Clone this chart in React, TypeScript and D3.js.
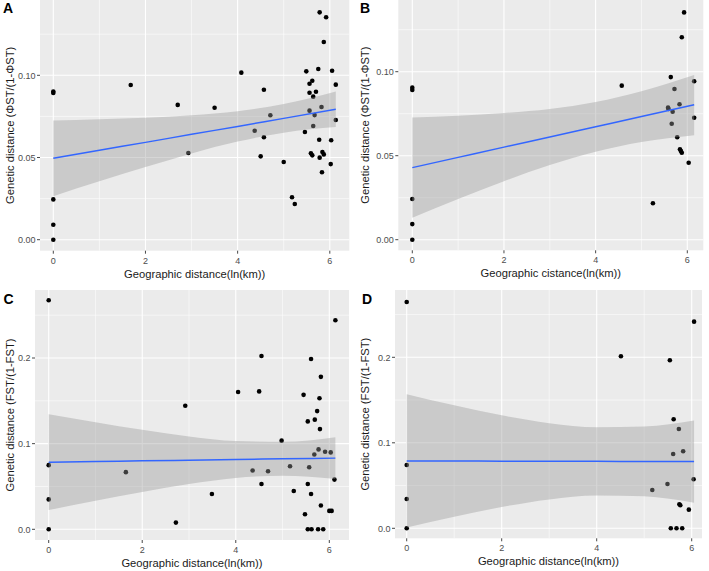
import * as d3 from 'd3';

// ---- data ----
const xTicks = [0, 2, 4, 6];
const xMinor = [1, 3, 5];
const xTickLabels = ['0', '2', '4', '6'];

const phiTicks = [0, 0.05, 0.1];
const phiMinor = [0.025, 0.075, 0.125];
const phiTickLabels = ['0.00', '0.05', '0.10'];

const fstTicks = [0, 0.1, 0.2];
const fstMinor = [0.05, 0.15, 0.25];
const fstTickLabels = ['0.0', '0.1', '0.2'];

const pointsA: [number, number][] = [
  [0, 0.0901], [0, 0.0893], [0, 0.0245], [0, 0.0091], [0, 0.0],
  [1.68, 0.0941], [2.7, 0.082], [2.93, 0.0527], [3.5, 0.0803],
  [4.08, 0.1016], [5.49, 0.1024], [5.75, 0.1038], [6.05, 0.1028], [6.13, 0.0943],
  [5.56, 0.0949], [5.62, 0.0967], [4.57, 0.0912], [5.56, 0.0894], [5.7, 0.09],
  [5.64, 0.087], [5.56, 0.0785], [5.82, 0.0807], [5.67, 0.0758], [4.71, 0.0757],
  [6.13, 0.0728], [5.64, 0.0692], [4.37, 0.0663], [5.46, 0.0655], [4.57, 0.0623],
  [5.77, 0.0608], [6.03, 0.0605], [5.59, 0.0526], [5.62, 0.0513], [5.84, 0.0533],
  [5.87, 0.0519], [5.78, 0.0499], [4.5, 0.0507], [5.0, 0.0473], [6.02, 0.046],
  [5.83, 0.041], [5.18, 0.0258], [5.24, 0.0217], [5.78, 0.1383], [5.92, 0.1353],
  [5.87, 0.1203],
];

const pointsB: [number, number][] = [
  [0, 0.0905], [0, 0.0891], [0, 0.0242], [0, 0.0093], [0, 0],
  [4.57, 0.0917], [5.93, 0.1353], [5.88, 0.1205], [5.64, 0.0968], [6.15, 0.0943],
  [5.72, 0.0897], [5.83, 0.0806], [5.58, 0.0786], [5.59, 0.0778], [5.68, 0.0762],
  [6.15, 0.0726], [5.66, 0.069], [5.78, 0.061], [5.84, 0.0538], [5.86, 0.0528],
  [5.88, 0.0518], [6.03, 0.0458], [5.25, 0.0217],
];

const pointsC: [number, number][] = [
  [0, 0.2675], [0, 0.0749], [0, 0.0349], [0, 0],
  [1.65, 0.0667], [2.72, 0.0078], [2.92, 0.1443], [3.49, 0.0412], [4.05, 0.1603],
  [4.36, 0.0686], [4.5, 0.161], [4.55, 0.2024], [4.55, 0.0529], [4.69, 0.0678],
  [4.98, 0.1035], [5.16, 0.0737], [5.24, 0.0447], [5.45, 0.157], [5.48, 0.0176],
  [5.54, 0.126], [5.54, 0.0529], [5.54, 0], [5.57, 0.0725], [5.61, 0.1988],
  [5.61, 0.0412], [5.62, 0], [5.68, 0.0874], [5.69, 0.128], [5.74, 0.138],
  [5.77, 0.0933], [5.76, 0], [5.79, 0.153], [5.8, 0.117], [5.82, 0.178],
  [5.82, 0.0278], [5.87, 0], [5.91, 0.0906], [6.03, 0.0898], [6.0, 0.0215],
  [6.05, 0.0215], [6.11, 0.058], [6.13, 0.244],
];

const pointsD: [number, number][] = [
  [0, 0.2647], [0, 0.0741], [0, 0.0343], [0, 0],
  [4.51, 0.2012], [5.54, 0.1965], [6.05, 0.2417], [5.62, 0.1275], [5.73, 0.1162],
  [5.61, 0.0869], [5.82, 0.0901], [6.04, 0.0573], [5.49, 0.0519], [5.17, 0.0448],
  [5.74, 0.0281], [5.76, 0.027], [5.94, 0.0218], [5.56, 0], [5.68, 0], [5.8, 0],
];

// fitted lm line and its confidence band, read at a few x positions
const fitXA = [0, 1, 2, 3, 4, 5, 6.13];
const fitA = [0.0495, 0.0544, 0.0592, 0.0641, 0.0689, 0.0738, 0.0793];
const lowA = [0.0265, 0.0355, 0.0442, 0.0525, 0.0597, 0.0651, 0.0685];
const highA = [0.0725, 0.0733, 0.0742, 0.0757, 0.0781, 0.0825, 0.0901];

const fitXB = [0, 1, 2, 3, 4, 5, 6.15];
const fitB = [0.0429, 0.049, 0.0551, 0.0611, 0.0672, 0.0733, 0.0803];
const lowB = [0.0131, 0.0242, 0.0348, 0.0444, 0.0524, 0.0582, 0.0622];
const highB = [0.0727, 0.0738, 0.0754, 0.0778, 0.082, 0.0884, 0.098];

const fitXC = [0, 1, 2, 3, 4, 5, 6.13];
const fitC = [0.0784, 0.0792, 0.0799, 0.0807, 0.0815, 0.0823, 0.0831];
const lowC = [0.0224, 0.0333, 0.0436, 0.053, 0.06, 0.0625, 0.0586];
const highC = [0.1344, 0.1251, 0.1162, 0.1084, 0.103, 0.1021, 0.1076];

const fitXD = [0, 1, 2, 3, 4, 5, 6.05];
const fitD = [0.0788, 0.0787, 0.0785, 0.0784, 0.0783, 0.0782, 0.078];
const lowD = [0.0008, 0.0136, 0.0249, 0.0338, 0.0385, 0.0374, 0.0299];
const highD = [0.1568, 0.1438, 0.1321, 0.123, 0.1181, 0.119, 0.1261];

const phiTitle = 'Genetic distance (\u03A6ST/(1-\u03A6ST)';
const fstTitle = 'Genetic distance (FST/(1-FST)';

interface Panel {
  tag: string;
  rect: [number, number, number, number]; // left, top, right, bottom
  xPx: [number, number]; // pixel of x=0 and x=6
  yPx: [number, number]; // pixel of y=0 and y=yRef
  yRef: number;
  yTicks: number[];
  yMinor: number[];
  yLabels: string[];
  yTitle: string;
  yTitleX: number;
  xTitle: string;
  tagPos: [number, number];
  points: [number, number][];
  fitX: number[];
  fit: number[];
  low: number[];
  high: number[];
}

const panels: Panel[] = [
  {
    tag: 'A', rect: [40, 0, 349.3, 250.7], xPx: [53.3, 329.8], yPx: [239.7, 75.3], yRef: 0.1,
    yTicks: phiTicks, yMinor: phiMinor, yLabels: phiTickLabels, yTitle: phiTitle, yTitleX: 14,
    xTitle: 'Geographic distance(ln(km))', tagPos: [3, 13],
    points: pointsA, fitX: fitXA, fit: fitA, low: lowA, high: highA,
  },
  {
    tag: 'B', rect: [398.3, 0, 703.3, 250.3], xPx: [412.3, 687.3], yPx: [239.7, 71.7], yRef: 0.1,
    yTicks: phiTicks, yMinor: phiMinor, yLabels: phiTickLabels, yTitle: phiTitle, yTitleX: 369,
    xTitle: 'Geographic cistance(ln(km))', tagPos: [360, 13],
    points: pointsB, fitX: fitXB, fit: fitB, low: lowB, high: highB,
  },
  {
    tag: 'C', rect: [35, 290, 349, 540], xPx: [48.7, 329.3], yPx: [529.3, 358], yRef: 0.2,
    yTicks: fstTicks, yMinor: fstMinor, yLabels: fstTickLabels, yTitle: fstTitle, yTitleX: 13.5,
    xTitle: 'Geographic distance(ln(km))', tagPos: [3.5, 304],
    points: pointsC, fitX: fitXC, fit: fitC, low: lowC, high: highC,
  },
  {
    tag: 'D', rect: [395, 290, 702, 538.3], xPx: [406.7, 691.7], yPx: [528.3, 357.3], yRef: 0.2,
    yTicks: fstTicks, yMinor: fstMinor, yLabels: fstTickLabels, yTitle: fstTitle, yTitleX: 369,
    xTitle: 'Geographic distance(ln(km))', tagPos: [362, 304],
    points: pointsD, fitX: fitXD, fit: fitD, low: lowD, high: highD,
  },
];

const FONT = "'Liberation Sans', Arial, sans-serif";

function PanelView({ p }: { p: Panel }) {
  const [left, top, right, bottom] = p.rect;
  const x = d3.scaleLinear().domain([0, 6]).range(p.xPx);
  const y = d3.scaleLinear().domain([0, p.yRef]).range(p.yPx);

  const idx = d3.range(p.fitX.length);
  const band = d3.area<number>()
    .x((i) => x(p.fitX[i]))
    .y0((i) => y(p.low[i]))
    .y1((i) => y(p.high[i]))
    .curve(d3.curveMonotoneX);
  const line = d3.line<number>()
    .x((i) => x(p.fitX[i]))
    .y((i) => y(p.fit[i]))
    .curve(d3.curveMonotoneX);

  const inY = (v: number) => y(v) >= top && y(v) <= bottom;
  const cx = (left + right) / 2;
  const cy = (top + bottom) / 2;

  return (
    <g>
      <rect x={left} y={top} width={right - left} height={bottom - top} fill="#EBEBEB" />
      {/* minor grid */}
      {xMinor.map((v) => (
        <line key={'xm' + v} x1={x(v)} x2={x(v)} y1={top} y2={bottom} stroke="#fff" strokeWidth={0.55} />
      ))}
      {p.yMinor.filter(inY).map((v) => (
        <line key={'ym' + v} x1={left} x2={right} y1={y(v)} y2={y(v)} stroke="#fff" strokeWidth={0.55} />
      ))}
      {/* major grid */}
      {xTicks.map((v) => (
        <line key={'xg' + v} x1={x(v)} x2={x(v)} y1={top} y2={bottom} stroke="#fff" strokeWidth={1.1} />
      ))}
      {p.yTicks.map((v) => (
        <line key={'yg' + v} x1={left} x2={right} y1={y(v)} y2={y(v)} stroke="#fff" strokeWidth={1.1} />
      ))}
      {/* points, then the smooth drawn over them like ggplot */}
      {p.points.map((d, i) => (
        <circle key={'p' + i} cx={x(d[0])} cy={y(d[1])} r={2.3} fill="#000" />
      ))}
      <path d={band(idx) ?? ''} fill="#999999" fillOpacity={0.4} />
      <path d={line(idx) ?? ''} fill="none" stroke="#3366FF" strokeWidth={1.5} />

      {/* axes */}
      {xTicks.map((v, i) => (
        <g key={'xt' + v}>
          <line x1={x(v)} x2={x(v)} y1={bottom} y2={bottom + 3} stroke="#333" strokeWidth={0.9} />
          <text x={x(v)} y={bottom + 12.8} textAnchor="middle" fontSize={9} fill="#4D4D4D" fontFamily={FONT}>
            {xTickLabels[i]}
          </text>
        </g>
      ))}
      {p.yTicks.map((v, i) => (
        <g key={'yt' + v}>
          <line x1={left - 3} x2={left} y1={y(v)} y2={y(v)} stroke="#333" strokeWidth={0.9} />
          <text x={left - 4.5} y={y(v) + 3.2} textAnchor="end" fontSize={9} fill="#4D4D4D" fontFamily={FONT}>
            {p.yLabels[i]}
          </text>
        </g>
      ))}
      <text x={cx} y={bottom + 27} textAnchor="middle" fontSize={11.2} fill="#1a1a1a" fontFamily={FONT}>
        {p.xTitle}
      </text>
      <text
        transform={`translate(${p.yTitleX},${cy}) rotate(-90)`}
        textAnchor="middle"
        fontSize={11.2}
        fill="#1a1a1a"
        fontFamily={FONT}
      >
        {p.yTitle}
      </text>
      <text x={p.tagPos[0]} y={p.tagPos[1]} fontSize={14} fontWeight="bold" fill="#000" fontFamily={FONT}>
        {p.tag}
      </text>
    </g>
  );
}

export default function App() {
  return (
    <svg
      width={709}
      height={571}
      viewBox="0 0 709 571"
      style={{ position: 'absolute', left: 0, top: 0, background: '#fff' }}
    >
      <rect x={0} y={0} width={709} height={571} fill="#fff" />
      {panels.map((p) => (
        <PanelView key={p.tag} p={p} />
      ))}
    </svg>
  );
}
